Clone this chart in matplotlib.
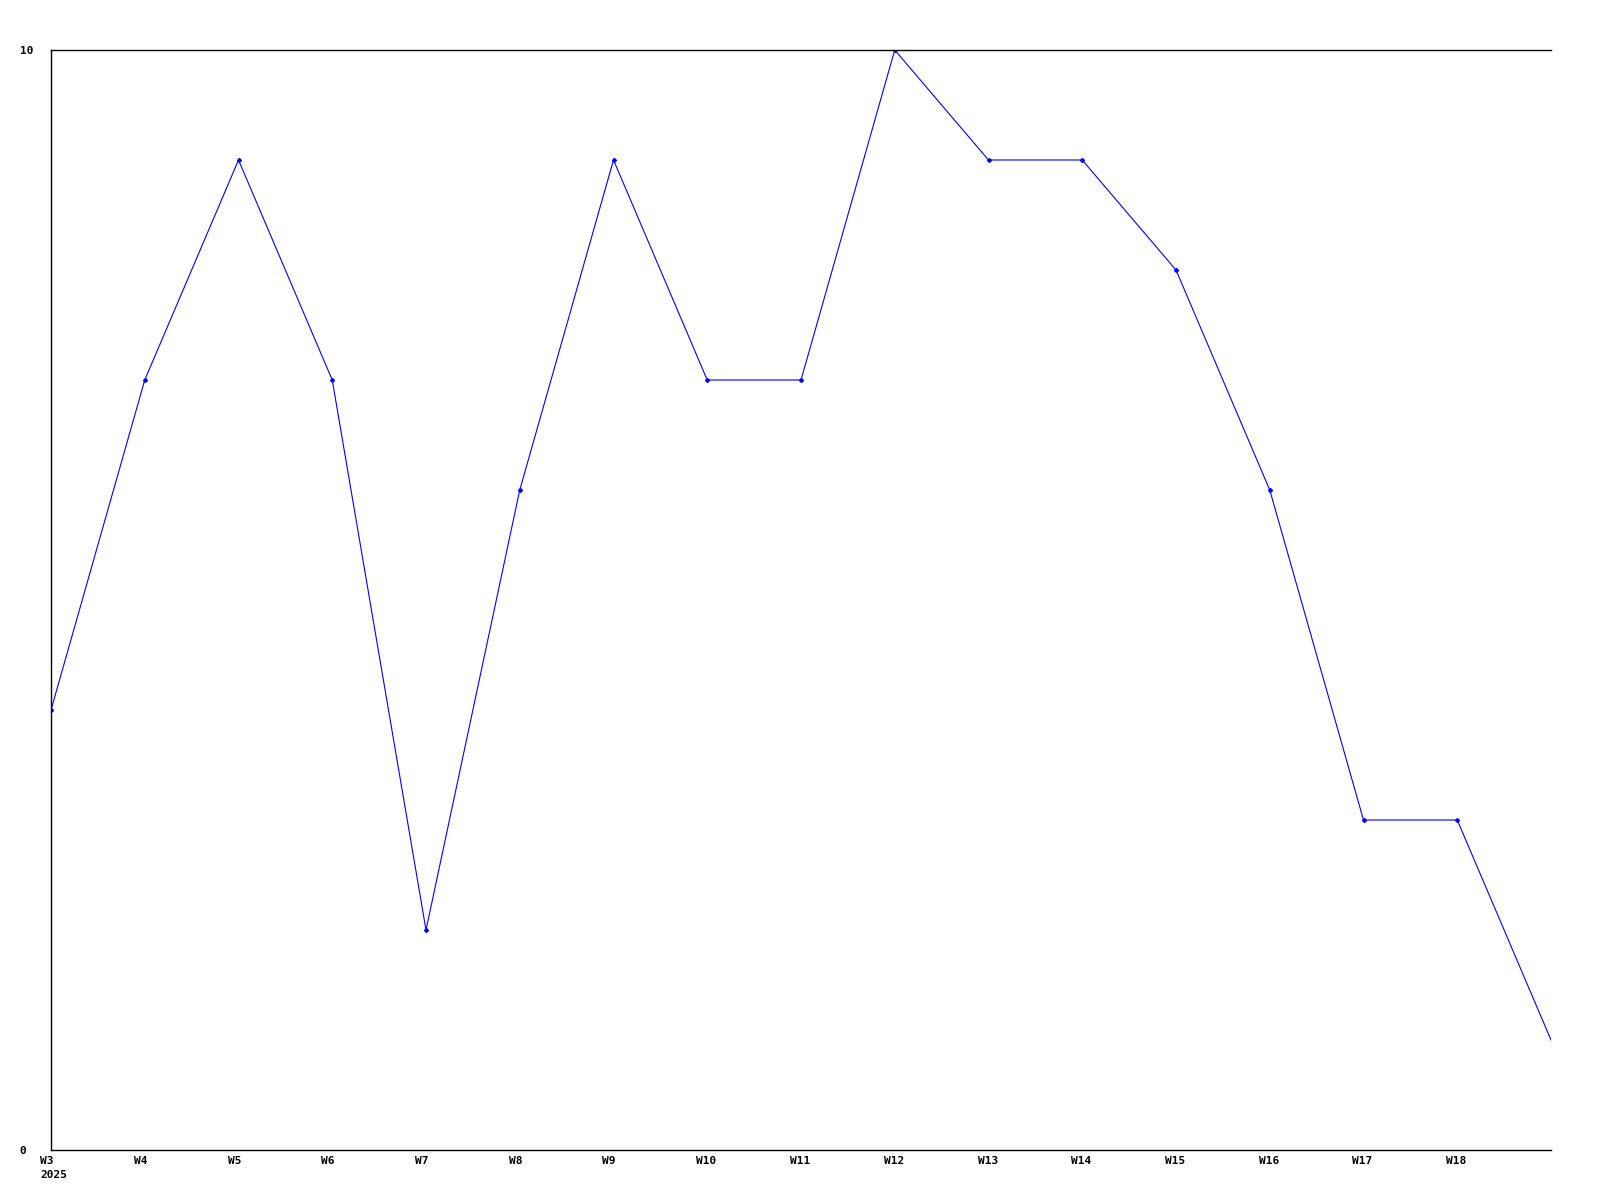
import matplotlib.pyplot as plt
import matplotlib.transforms as mtransforms

WEEKS = ["W3", "W4", "W5", "W6", "W7", "W8", "W9", "W10", "W11", "W12",
         "W13", "W14", "W15", "W16", "W17", "W18", "W19"]
VALUES = [4, 7, 9, 7, 2, 6, 9, 7, 7, 10, 9, 9, 8, 6, 3, 3, 1]
TICK_LABELS = ["W3\n2025"] + WEEKS[1:16]
Y_TICKS = [0, 10]

fig = plt.figure(figsize=(16, 12), dpi=100)
ax = fig.add_axes([51 / 1600, 50 / 1200, 1500 / 1600, 1100 / 1200])

x = list(range(len(VALUES)))
# last point sits on the right edge, drawn without a marker
ax.plot(x, VALUES, color="#0000ff", lw=0.8, marker="D", ms=2.0,
        mfc="#0000ff", mec="#0000ff", markevery=list(range(len(VALUES) - 1)))

ax.set_xlim(0, len(VALUES) - 1)
ax.set_ylim(0, 10)
ax.spines["right"].set_visible(False)
for s in ("left", "top", "bottom"):
    ax.spines[s].set_linewidth(1.0)
    ax.spines[s].set_color("black")

font = dict(family="DejaVu Sans Mono", weight="bold", size=8)

ax.set_xticks(range(len(TICK_LABELS)))
ax.set_xticklabels(TICK_LABELS, ha="left", linespacing=1.6, **font)
ax.tick_params(axis="x", length=0, pad=4)
off = mtransforms.ScaledTranslation(-11 / 100, 0, fig.dpi_scale_trans)
for lab in ax.get_xticklabels():
    lab.set_transform(lab.get_transform() + off)

ax.set_yticks(Y_TICKS)
ax.set_yticklabels([str(v) for v in Y_TICKS], ha="left", **font)
ax.tick_params(axis="y", length=0, pad=22.5)

fig.savefig("out.png", dpi=100)
